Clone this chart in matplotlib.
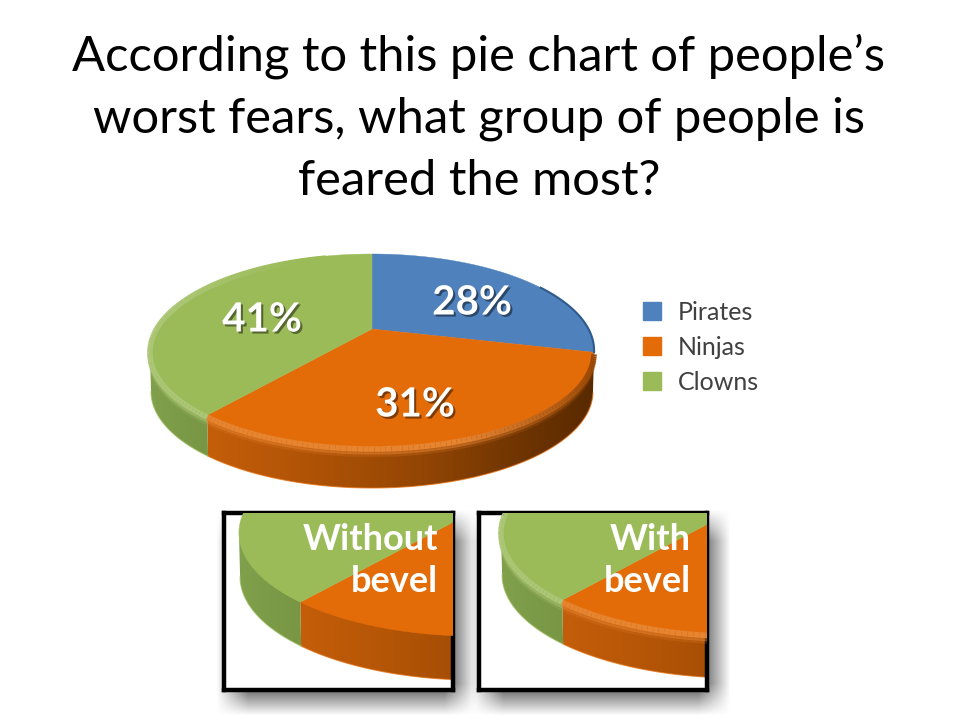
import numpy as np
import matplotlib
matplotlib.use('Agg')
import matplotlib.pyplot as plt
import matplotlib.patheffects as pe
from matplotlib.collections import LineCollection
from matplotlib.patches import Polygon, Patch

categories = ['Pirates', 'Ninjas', 'Clowns']
values = [28, 31, 41]
colors = ['#4F81BD', '#E36C09', '#9BBB59']
title = 'According to this pie chart of people’s\nworst fears, what group of people is\nfeared the most?'

plt.rcParams['font.family'] = ['Lato', 'DejaVu Sans']

# perspective of the 3d pie, in pixels of the picture
X0, Y0, R = 372, 329, 216.5
C, A = 0.2228, -18.4
DEPTH = 41


def project(theta):
    t = np.radians(theta)
    u, v = np.sin(t), np.cos(t)
    w = 1 + C * v
    return X0 + R * u / w, (Y0 + A * v) / w


def slice_angles():
    # the first slices look a bit wider than their share in the picture
    f = np.cumsum([0] + values) / sum(values)
    return np.interp(f, [0, f[2], 1], [0, 219, 360])


def grad_image(ax, poly, xs, cols):
    x = np.linspace(150, 596, 300)
    rgb = np.array([np.interp(x, xs, [c[i] for c in cols]) for i in range(3)]).T / 255
    img = np.repeat(rgb[None, :, :], 2, axis=0)
    im = ax.imshow(img, extent=(150, 596, 495, 340), aspect='auto', zorder=2, interpolation='bilinear')
    im.set_clip_path(Polygon(poly, transform=ax.transData))


def draw_bevel(ax, ang):
    for i, col in enumerate(colors[1:], start=1):
        th = np.linspace(ang[i], min(ang[i + 1], 345), 100)
        x, y = project(th)
        mid = np.radians((th[:-1] + th[1:]) / 2)
        u, v = np.sin(mid), np.cos(mid)
        rgb = np.array(matplotlib.colors.to_rgb(col))
        light = np.clip(0.25 * (-v * 0.6 - u * 0.6 + 0.3), 0, 0.16)[:, None]
        dark = np.clip((u - 0.3) * 0.5, 0, 0.35)[:, None]
        seg_col = (rgb + (1 - rgb) * light) * (1 - dark)
        # soft band that fades down the wall
        for off, lw, alpha in [(8, 3, 0.2), (5.5, 3, 0.5), (2, 4, 1.0)]:
            pts = np.c_[x, y + off]
            segs = np.stack([pts[:-1], pts[1:]], axis=1)
            lc = LineCollection(segs, colors=seg_col, linewidths=lw, alpha=alpha, zorder=2.7 if off > 2 else 4,
                                capstyle='butt')
            ax.add_collection(lc)


def draw_pie(ax, bevel=True):
    ang = slice_angles()
    # side wall, only the front part shows
    wall_x = [[207, 300, 420, 500, 590], [150, 207]]
    wall_c = [[(196, 94, 10), (178, 84, 6), (148, 70, 4), (118, 56, 2), (90, 42, 0)],
              [(128, 160, 76), (120, 150, 68)]]
    ranges = [(ang[1], ang[2]), (ang[2], 257.1)]
    for (a, b), xs, cs, col in zip(ranges, wall_x, wall_c, colors[1:]):
        th = np.linspace(a, b, 120)
        x, y = project(th)
        x2 = X0 + (x - X0) * 0.995
        poly = np.r_[np.c_[x, y - 2], np.c_[x2, y + DEPTH][::-1]]
        grad_image(ax, poly, xs, cs)
        ax.plot(x2, y + DEPTH, color=col, lw=0.8, alpha=0.7, zorder=2.5)

    # top face
    for i, col in enumerate(colors):
        th = np.linspace(ang[i], ang[i + 1], 150)
        x, y = project(th)
        ax.fill(np.r_[X0, x], np.r_[Y0, y], color=col, lw=0.3, zorder=3)

    # dark edge of the blue slice on the right
    x, y = project(np.linspace(60, ang[1], 60))
    ax.plot(x, y, color='#2F5A8C', lw=1.5, zorder=4)

    if bevel:
        draw_bevel(ax, ang)


fig = plt.figure(figsize=(9.6, 7.2), dpi=100)
ax = fig.add_axes([0, 0, 1, 1])
ax.set_xlim(0, 960)
ax.set_ylim(720, 0)
ax.axis('off')

ax.text(479, 118, title, ha='center', va='center', fontsize=35.3, color='black', linespacing=1.5)

draw_pie(ax)
ax.set_xlim(0, 960)
ax.set_ylim(720, 0)

# value labels
label_pos = [(472, 303), (415, 405), (262, 320)]
for v, (x, y) in zip(values, label_pos):
    ax.text(x, y, f'{v}%', ha='center', va='center', color='white', fontsize=29,
            fontweight='bold', zorder=6,
            path_effects=[pe.SimplePatchShadow(offset=(1.5, -1.5), shadow_rgbFace='k', alpha=0.45), pe.Normal()])

handles = [Patch(color=c, label=n) for c, n in zip(colors, categories)]
ax.legend(handles=handles, loc='upper left', bbox_to_anchor=(633, 291), bbox_transform=ax.transData,
          frameon=False, fontsize=18, labelspacing=0.48, handlelength=0.72, handleheight=0.72,
          handletextpad=0.68, labelcolor='#404040', borderpad=0.4, borderaxespad=0)


def soft_rect(x0, x1, y0, y1, blur):
    xx = np.arange(x0 - blur, x1 + blur)
    yy = np.arange(y0 - blur, y1 + blur)
    ax_ = np.clip((xx - x0 + blur) / (2 * blur), 0, 1) * np.clip((x1 + blur - xx) / (2 * blur), 0, 1)
    ay_ = np.clip((yy - y0 + blur) / (2 * blur), 0, 1) * np.clip((y1 + blur - yy) / (2 * blur), 0, 1)
    a = np.outer(ay_, ax_) * 0.7
    img = np.zeros(a.shape + (4,))
    img[..., 3] = a
    ax.imshow(img, extent=(xx[0], xx[-1], yy[-1], yy[0]), aspect='auto', zorder=1, interpolation='bilinear')


# two close-ups, scaled copies of the same pie
SCALE = 1.07
inset_boxes = [(224, 453, 513, 690), (479, 707, 513, 690)]
anchors = [(300, 602), (562, 600)]
inset_text = [('Without', 'bevel', 438), ('With', 'bevel', 691)]
inset_bevel = [False, True]

for (x0, x1, y0, y1), (ax_px, ay_px), (t1, t2, tx), bev in zip(inset_boxes, anchors, inset_text, inset_bevel):
    soft_rect(x0 + 8, x1 + 8, y0 + 12, y1 + 10, 16)
    sub = fig.add_axes([x0 / 960, 1 - y1 / 720, (x1 - x0) / 960, (y1 - y0) / 720])
    draw_pie(sub, bevel=bev)
    sub.set_xlim(207 + (x0 - ax_px) / SCALE, 207 + (x1 - ax_px) / SCALE)
    sub.set_ylim(415 + (y1 - ay_px) / SCALE, 415 + (y0 - ay_px) / SCALE)
    sub.set_xticks([])
    sub.set_yticks([])
    for s in sub.spines.values():
        s.set_linewidth(3.2)
        s.set_color('black')
    for t, yt in zip((t1, t2), (539, 582)):
        sub.text(tx, yt, t, transform=ax.transData, ha='right', va='center', color='white',
                 fontsize=26, fontweight='bold', zorder=6)

ax.set_xlim(0, 960)
ax.set_ylim(720, 0)
fig.savefig('out.png', dpi=100)
